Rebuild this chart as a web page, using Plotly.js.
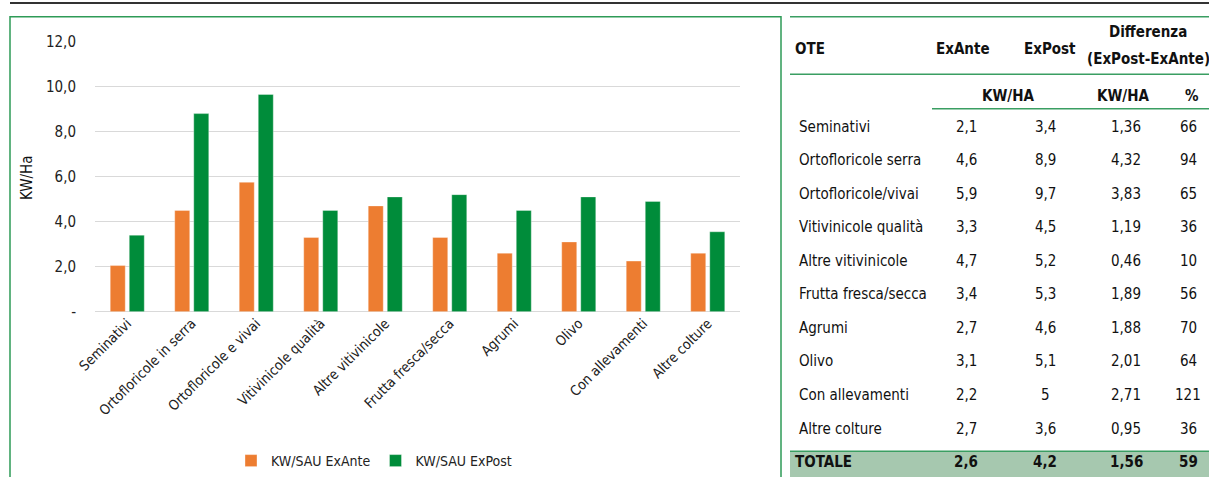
<!DOCTYPE html>
<html>
<head>
<meta charset="utf-8">
<script src="https://cdn.plot.ly/plotly-3.0.1.min.js"></script>
<style>html,body{margin:0;padding:0;background:#fff;}#chart{width:1209px;height:477px;}</style>
</head>
<body>
<div id="chart"></div>
<script>
// ---- Chart data ----
const categories = ["Seminativi", "Ortofloricole in serra", "Ortofloricole e vivai", "Vitivinicole qualità", "Altre vitivinicole", "Frutta fresca/secca", "Agrumi", "Olivo", "Con allevamenti", "Altre colture"];
const exAnte = [2.05, 4.5, 5.75, 3.3, 4.7, 3.3, 2.6, 3.1, 2.25, 2.6];
const exPost = [3.4, 8.8, 9.65, 4.5, 5.1, 5.2, 4.5, 5.1, 4.9, 3.55];
const seriesNames = ["KW/SAU ExAnte", "KW/SAU ExPost"];
const yTickVals = [0, 2, 4, 6, 8, 10, 12];
const yTickText = ["-", "2,0", "4,0", "6,0", "8,0", "10,0", "12,0"];

// ---- Table data ----
const tableOTE = ["Seminativi", "Ortofloricole serra", "Ortofloricole/vivai", "Vitivinicole qualità", "Altre vitivinicole", "Frutta fresca/secca", "Agrumi", "Olivo", "Con allevamenti", "Altre colture"];
const tableExAnte = ["2,1", "4,6", "5,9", "3,3", "4,7", "3,4", "2,7", "3,1", "2,2", "2,7"];
const tableExPost = ["3,4", "8,9", "9,7", "4,5", "5,2", "5,3", "4,6", "5,1", "5", "3,6"];
const tableDiff = ["1,36", "4,32", "3,83", "1,19", "0,46", "1,89", "1,88", "2,01", "2,71", "0,95"];
const tablePct = ["66", "94", "65", "36", "10", "56", "70", "64", "121", "36"];
const totalRow = ["TOTALE", "2,6", "4,2", "1,56", "59"];

// ---- Layout constants (pixels) ----
const W = 1209, H = 477;
const FONT = "'Liberation Sans Narrow', 'DejaVu Sans Condensed', 'Roboto', sans-serif";
const px = x => x / W;
const py = y => 1 - y / H;
const ORANGE = "#ED7D31", GREEN = "#008C3A", LINEGREEN = "#3A9E62";

const traces = [
  {type: "bar", name: seriesNames[0], x: categories, y: exAnte,
   marker: {color: ORANGE, line: {color: "rgba(255,255,255,0.35)", width: 1}}, hoverinfo: "y"},
  {type: "bar", name: seriesNames[1], x: categories, y: exPost,
   marker: {color: GREEN, line: {color: "rgba(255,255,255,0.35)", width: 1}}, hoverinfo: "y"}
];

const annotations = [];
const shapes = [];

// y-axis title
annotations.push({xref: "paper", yref: "paper", x: px(27), y: py(180), text: "KW/Ha", textangle: -90,
  showarrow: false, font: {family: FONT, size: 15, color: "#111"}, xanchor: "center", yanchor: "middle"});

// frame lines
shapes.push({type: "line", xref: "paper", yref: "paper", x0: px(10), x1: 1, y0: py(3), y1: py(3), line: {color: "#333", width: 2}});
shapes.push({type: "rect", xref: "paper", yref: "paper", x0: px(10), x1: px(781), y0: py(17), y1: py(490), line: {color: "#2E9B57", width: 1.5}});

// table geometry
const tLeft = 790, nameX = 797;
const colX = [966, 1045, 1126, 1188];
const rowY0 = 128, rowH = 33.9;
const bodyFont = {family: FONT, size: 15, color: "#111"};
const boldFont = {family: FONT, size: 15, color: "#111", weight: "bold"};

function txt(x, y, t, f, anchor) {
  annotations.push({xref: "paper", yref: "paper", x: px(x), y: py(y), text: t, showarrow: false,
    font: f, xanchor: anchor || "center", yanchor: "middle"});
}

// header
txt(793, 50, "<b>OTE</b>", boldFont, "left");
txt(963, 50, "<b>ExAnte</b>", boldFont);
txt(1050, 50, "<b>ExPost</b>", boldFont);
txt(1148, 32, "<b>Differenza</b>", boldFont);
txt(1148, 60, "<b>(ExPost-ExAnte)</b>", boldFont);
txt(1008, 97, "<b>KW/HA</b>", boldFont);
txt(1123, 97, "<b>KW/HA</b>", boldFont);
txt(1192, 97, "<b>%</b>", boldFont);

shapes.push({type: "line", xref: "paper", yref: "paper", x0: px(tLeft), x1: 1, y0: py(17), y1: py(17), line: {color: LINEGREEN, width: 1.5}});
shapes.push({type: "line", xref: "paper", yref: "paper", x0: px(tLeft), x1: 1, y0: py(75), y1: py(75), line: {color: LINEGREEN, width: 1.5}});
shapes.push({type: "line", xref: "paper", yref: "paper", x0: px(932), x1: 1, y0: py(110), y1: py(110), line: {color: LINEGREEN, width: 1.5}});

// body rows
tableOTE.forEach((name, i) => {
  const y = rowY0 + i * rowH;
  txt(nameX, y, name, bodyFont, "left");
  txt(colX[0], y, tableExAnte[i], bodyFont);
  txt(colX[1], y, tableExPost[i], bodyFont);
  txt(colX[2], y, tableDiff[i], bodyFont);
  txt(colX[3], y, tablePct[i], bodyFont);
});

// total row
const totY = rowY0 + tableOTE.length * rowH;
shapes.push({type: "rect", xref: "paper", yref: "paper", x0: px(tLeft), x1: 1, y0: py(456), y1: py(490),
  fillcolor: "#A6C8AF", line: {width: 0}, layer: "below"});
shapes.push({type: "line", xref: "paper", yref: "paper", x0: px(tLeft), x1: 1, y0: py(456), y1: py(456), line: {color: LINEGREEN, width: 1.5}});
txt(793, totY, "<b>" + totalRow[0] + "</b>", boldFont, "left");
totalRow.slice(1).forEach((v, j) => txt(colX[j], totY, "<b>" + v + "</b>", boldFont));

const layout = {
  width: W, height: H,
  margin: {l: 0, r: 0, t: 0, b: 0},
  paper_bgcolor: "#fff", plot_bgcolor: "#fff",
  font: {family: FONT, size: 14, color: "#222"},
  barmode: "group", bargap: 0.41, bargroupgap: 0.21,
  showlegend: true,
  legend: {orientation: "h", x: px(374), xanchor: "center", y: py(466), yanchor: "middle",
    font: {family: FONT, size: 14, color: "#222"}, itemwidth: 30, traceorder: "normal"},
  xaxis: {domain: [px(95), px(740)], type: "category", tickangle: -45, ticks: "",
    tickfont: {family: FONT, size: 14, color: "#222"}, showline: false, showgrid: false, automargin: false},
  yaxis: {domain: [py(315), py(42)], range: [0, 12], tickvals: yTickVals, ticktext: yTickText,
    ticks: "", showline: false, gridcolor: "#D9D9D9", gridwidth: 1.5, zeroline: true, zerolinecolor: "#D9D9D9", zerolinewidth: 1.5,
    tickfont: {family: FONT, size: 15, color: "#222"}, ticklabelstandoff: 18, automargin: false},
  shapes: shapes,
  annotations: annotations
};

Plotly.newPlot("chart", traces, layout, {displayModeBar: false, staticPlot: true});
</script>
</body>
</html>
